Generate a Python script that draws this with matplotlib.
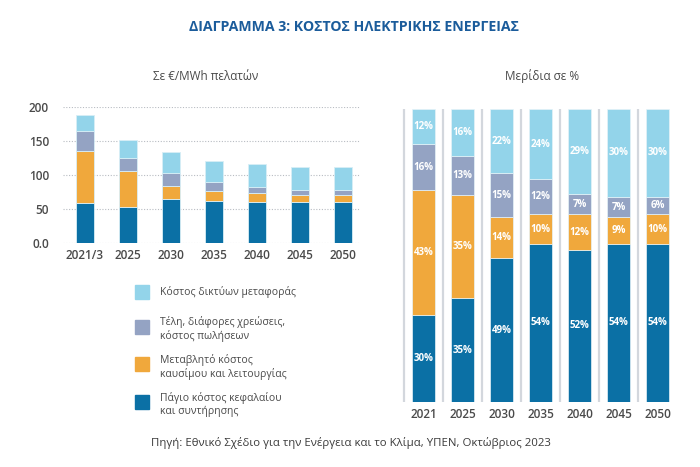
import matplotlib.pyplot as plt
from matplotlib.patches import Rectangle

# data
years_cost = ["2021/3", "2025", "2030", "2035", "2040", "2045", "2050"]
years_share = ["2021", "2025", "2030", "2035", "2040", "2045", "2050"]

# €/MWh per component (bottom -> top)
fixed_cost = [59, 53, 65, 62, 60, 60, 60]
variable_cost = [76, 52, 19, 14, 14, 10, 11]
fees_cost = [30, 19, 19, 14, 8, 8, 7]
network_cost = [23, 27, 30, 30, 34, 34, 34]

# shares in % (as labelled)
fixed_share = [30, 35, 49, 54, 52, 54, 54]
variable_share = [43, 35, 14, 10, 12, 9, 10]
fees_share = [16, 13, 15, 12, 7, 7, 6]
network_share = [12, 16, 22, 24, 29, 30, 30]

labels = ["Κόστος δικτύων μεταφοράς",
          "Τέλη, διάφορες χρεώσεις,\nκόστος πωλήσεων",
          "Μεταβλητό κόστος\nκαυσίμου και λειτουργίας",
          "Πάγιο κόστος κεφαλαίου\nκαι συντήρησης"]

c_net = "#93d4ea"
c_fee = "#94a3c3"
c_var = "#f0a83c"
c_fix = "#0b70a5"
txt = "#4a4a4a"

plt.rcParams["font.family"] = ["Open Sans", "DejaVu Sans"]

fig = plt.figure(figsize=(7, 4.67), dpi=100)
W, H = 700, 467


def box(x0, y0, x1, y1):
    return [x0 / W, 1 - y1 / H, (x1 - x0) / W, (y1 - y0) / H]


# ---- left chart: stacked €/MWh
ax = fig.add_axes(box(63, 106.7, 360, 243))
x = range(len(years_cost))
bot = [0] * len(x)
for vals, col in [(fixed_cost, c_fix), (variable_cost, c_var),
                  (fees_cost, c_fee), (network_cost, c_net)]:
    ax.bar(x, vals, width=0.42, bottom=bot, color=col,
           edgecolor="#d8eef6", linewidth=0.6, zorder=3)
    bot = [b + v for b, v in zip(bot, vals)]
ax.set_ylim(0, 200)
ax.set_xlim(-0.51, 6.4)
ax.set_yticks([0, 50, 100, 150, 200])
ax.set_yticklabels(["0.0", "50", "100", "150", "200"])
ax.set_xticks(list(x))
ax.set_xticklabels(years_cost)
ax.tick_params(length=0, labelsize=8.5, colors=txt, pad=4)
ax.tick_params(axis="y", pad=10)
for t in ax.get_xticklabels() + ax.get_yticklabels():
    t.set_fontweight("semibold")
ax.grid(axis="y", color="#b8bcc2", linestyle=(0, (1, 1.5)), linewidth=0.8, zorder=0)
for s in ax.spines.values():
    s.set_visible(False)

# ---- right chart: 100% stacked shares
ax2 = fig.add_axes(box(402, 109, 677, 402))
xs = range(len(years_share))
totals = [a + b + c + d for a, b, c, d in
          zip(fixed_share, variable_share, fees_share, network_share)]
bot = [0] * len(xs)
for vals, col in [(fixed_share, c_fix), (variable_share, c_var),
                  (fees_share, c_fee), (network_share, c_net)]:
    h = [v / t * 100 for v, t in zip(vals, totals)]
    bars = ax2.bar(xs, h, width=0.59, bottom=bot, color=col,
                   edgecolor="#e6f3f8", linewidth=0.5, zorder=3)
    ax2.bar_label(bars, labels=[f"{v}%" for v in vals], label_type="center",
                  color="white", fontsize=7, fontweight="bold")
    bot = [b + v for b, v in zip(bot, h)]
for i in xs:
    ax2.axvline(i - 0.5, color="#d3d7dd", linewidth=1.6, zorder=1)
ax2.set_ylim(0, 100)
ax2.set_xlim(-0.55, 6.5)
ax2.set_yticks([])
ax2.set_xticks(list(xs))
ax2.set_xticklabels(years_share)
ax2.tick_params(length=0, labelsize=8.5, colors=txt, pad=4)
for t in ax2.get_xticklabels():
    t.set_fontweight("semibold")
for s in ax2.spines.values():
    s.set_visible(False)

# ---- legend drawn by hand
leg = [(c_net, 291.5, 292), (c_fee, 326.5, 329), (c_var, 363.5, 367), (c_fix, 401.5, 404.5)]
for (col, sy, ty), lab in zip(leg, labels):
    fig.patches.append(Rectangle((135 / W, 1 - (sy + 7) / H), 14 / W, 14 / H,
                                 transform=fig.transFigure, color=col))
    fig.text(160 / W, 1 - ty / H, lab, fontsize=7.5, color=txt, va="center",
             linespacing=1.15)

# ---- texts
fig.text(354 / W, 1 - 27 / H, "ΔΙΑΓΡΑΜΜΑ 3: ΚΟΣΤΟΣ ΗΛΕΚΤΡΙΚΗΣ ΕΝΕΡΓΕΙΑΣ",
         ha="center", va="center", fontsize=10.2, fontweight="bold", color="#1b5c9b")
fig.text(206 / W, 1 - 76 / H, "Σε €/MWh πελατών", ha="center", va="center",
         fontsize=8.5, color=txt)
fig.text(542 / W, 1 - 76 / H, "Μερίδια σε %", ha="center", va="center",
         fontsize=8.5, color=txt)
fig.text(351 / W, 1 - 443 / H,
         "Πηγή: Εθνικό Σχέδιο για την Ενέργεια και το Κλίμα, ΥΠΕΝ, Οκτώβριος 2023",
         ha="center", va="center", fontsize=8.2, color="#3a3a3a")

fig.savefig("out.png", dpi=100)
